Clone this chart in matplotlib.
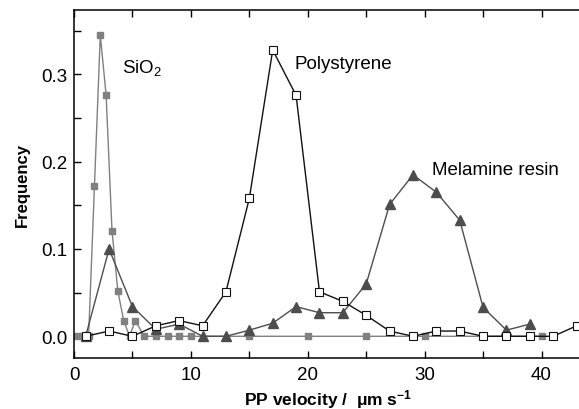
import matplotlib.pyplot as plt
from matplotlib.ticker import MultipleLocator

plt.rcParams['font.family'] = ['Liberation Sans', 'DejaVu Sans']
plt.rcParams['mathtext.fontset'] = 'custom'
plt.rcParams['mathtext.rm'] = 'Liberation Sans'
plt.rcParams['mathtext.it'] = 'Liberation Sans'
plt.rcParams['mathtext.bf'] = 'Liberation Sans:bold'

# PP velocity histograms (frequency per velocity bin)
sio2_v = [0.25, 0.75, 1.25, 1.75, 2.25, 2.75, 3.25, 3.75, 4.25, 4.75, 5.25,
          6, 7, 8, 9, 10, 15, 20, 25, 30, 40]
sio2_f = [0, 0, 0, 0.172, 0.345, 0.276, 0.121, 0.052, 0.018, 0, 0.018,
          0, 0, 0, 0, 0, 0, 0, 0, 0, 0]

mel_v = [1, 3, 5, 7, 9, 11, 13, 15, 17, 19, 21, 23, 25, 27, 29, 31, 33, 35, 37, 39]
mel_f = [0, 0.100, 0.034, 0.008, 0.014, 0, 0, 0.007, 0.015, 0.034, 0.027,
         0.027, 0.060, 0.151, 0.185, 0.165, 0.133, 0.033, 0.007, 0.014]

ps_v = [1, 3, 5, 7, 9, 11, 13, 15, 17, 19, 21, 23, 25, 27, 29, 31, 33, 35,
        37, 39, 41, 43]
ps_f = [0, 0.006, 0, 0.012, 0.018, 0.012, 0.051, 0.158, 0.328, 0.276, 0.051,
        0.040, 0.024, 0.006, 0, 0.006, 0.006, 0, 0, 0, 0, 0.012]

fig = plt.figure(figsize=(5.79, 4.10), dpi=100)
ax = fig.add_axes([74 / 579, 1 - 358.5 / 410, (582 - 74) / 579, (358.5 - 11) / 410])

ax.plot(sio2_v, sio2_f, color='#808080', lw=1.0, marker='s', ms=5,
        mfc='#808080', mec='#808080', zorder=2)
ax.plot(mel_v, mel_f, color='#4d4d4d', lw=1.0, marker='^', ms=6.5,
        mfc='#4d4d4d', mec='#4d4d4d', zorder=3)
ax.plot(ps_v, ps_f, color='#111111', lw=1.0, marker='s', ms=5.5,
        mfc='white', mec='#111111', mew=0.8, zorder=4)

# series labels
ax.text(4.1, 0.308, 'SiO$_2$', fontsize=13.5, va='center', ha='left')
ax.text(18.9, 0.313, 'Polystyrene', fontsize=13.5, va='center', ha='left')
ax.text(30.6, 0.191, 'Melamine resin', fontsize=13.5, va='center', ha='left')

ax.set_xlim(0, 43.46)
ax.set_ylim(-0.0243, 0.3738)
ax.xaxis.set_major_locator(MultipleLocator(10))
ax.xaxis.set_minor_locator(MultipleLocator(5))
ax.yaxis.set_major_locator(MultipleLocator(0.1))
ax.yaxis.set_minor_locator(MultipleLocator(0.05))
ax.yaxis.set_major_formatter(plt.FormatStrFormatter('%.1f'))
ax.tick_params(which='both', direction='in', top=True, right=False,
               labelsize=13.5, width=1.0, length=5)
ax.tick_params(axis='x', pad=6)
ax.tick_params(axis='y', pad=5)
ax.spines['right'].set_visible(False)
for s in ['left', 'bottom', 'top']:
    ax.spines[s].set_linewidth(1.1)

ax.set_xlabel(r'PP velocity /  $\mathbf{\mu}$m s$^{\mathbf{-1}}$', fontsize=12.5,
              fontweight='bold', labelpad=3)
ax.set_ylabel('Frequency', fontsize=12, fontweight='bold', labelpad=8)

fig.savefig('out.png', dpi=100)
